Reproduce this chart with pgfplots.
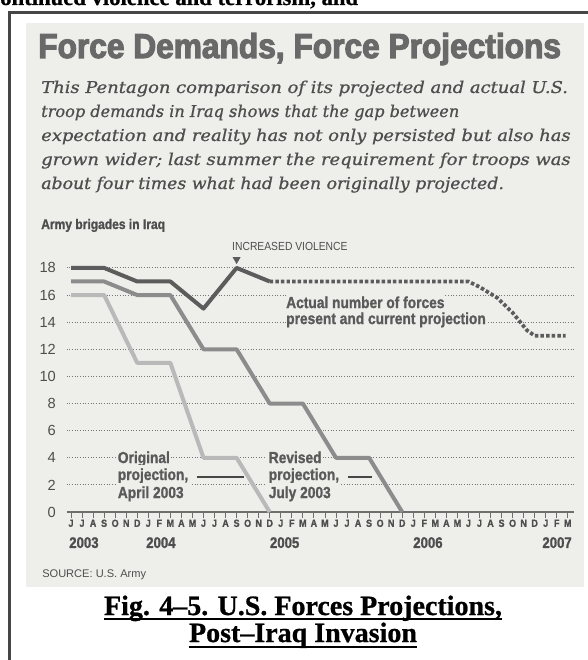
\documentclass[border=0pt]{standalone}
\usepackage{fontspec}
\usepackage{pgfplots}
\pgfplotsset{compat=1.18}
\setmainfont{Liberation Sans}
\newfontfamily\cond[FakeStretch=0.88]{Liberation Sans}
\newfontfamily\condb[FakeStretch=0.86, FakeBold=1.2]{Liberation Sans Bold}
\newfontfamily\condbb[FakeStretch=0.82, FakeBold=3]{Liberation Sans Bold}
\newfontfamily\bodyit[FakeBold=0.8]{DejaVu Serif Italic}
\newfontfamily\capfont[FakeBold=0.8]{Liberation Serif Bold}
\definecolor{panel}{RGB}{238,238,235}
\definecolor{ttl}{RGB}{105,105,105}
\definecolor{txt}{RGB}{78,78,78}
\definecolor{lab}{RGB}{90,90,90}
\definecolor{actual}{RGB}{92,92,92}
\definecolor{revised}{RGB}{140,140,140}
\definecolor{orig}{RGB}{185,185,185}
\definecolor{gridc}{RGB}{120,120,120}
\definecolor{axisc}{RGB}{110,110,110}
\definecolor{framec}{RGB}{70,70,70}
\begin{document}
\begin{tikzpicture}[x=0.75pt,y=-0.75pt]
\useasboundingbox (0,0) rectangle (587,660);
\begin{scope}
\clip (0,0) rectangle (587,660);
\node[anchor=base west, inner sep=0pt, font=\capfont\fontsize{17}{17}\selectfont] at (0,5) {ontinued violence and terrorism, and};
\end{scope}
\fill[panel] (26,23) rectangle (584,587);
\draw[framec, line width=2.25pt] (9.5,662) -- (9.5,12.5) -- (589,12.5);
% title
\node[anchor=base west, inner sep=0pt, text=ttl] at (38,58) {\resizebox{392pt}{18.75pt}{\condbb Force Demands, Force Projections}};
% paragraph
\node[anchor=base west, inner sep=0pt, text=txt] at (41,93) {\resizebox{395pt}{9.3pt}{\bodyit This Pentagon comparison of its projected and actual U.S.}};
\node[anchor=base west, inner sep=0pt, text=txt] at (41,117) {\resizebox{313.5pt}{9.3pt}{\bodyit troop demands in Iraq shows that the gap between}};
\node[anchor=base west, inner sep=0pt, text=txt] at (41,141) {\resizebox{397pt}{9.3pt}{\bodyit expectation and reality has not only persisted but also has}};
\node[anchor=base west, inner sep=0pt, text=txt] at (41,165) {\resizebox{397pt}{9.3pt}{\bodyit grown wider; last summer the requirement for troops was}};
\node[anchor=base west, inner sep=0pt, text=txt] at (41,189) {\resizebox{347pt}{9.3pt}{\bodyit about four times what had been originally projected.}};
\node[anchor=base west, inner sep=0pt, text=txt, font=\condb\fontsize{10.5}{12}\selectfont] at (41,229) {Army brigades in Iraq};
% source
\node[anchor=base west, inner sep=0pt, text=txt, font=\fontsize{8.3}{10}\selectfont] at (42,577) {SOURCE: U.S. Army};
% caption
\node[anchor=base, inner sep=0pt, font=\capfont\fontsize{21}{21}\selectfont] (c1) at (303,615) {Fig. 4–5. U.S. Forces Projections,};
\draw[line width=1.5pt] ([yshift=-3.3pt]c1.base west) -- ([yshift=-3.3pt]c1.base east);
\node[anchor=base, inner sep=0pt, font=\capfont\fontsize{21}{21}\selectfont] (c2) at (303,642) {Post–Iraq Invasion};
\draw[line width=1.5pt] ([yshift=-3.6pt]c2.base west) -- ([yshift=-3.6pt]c2.base east);
\coordinate (O) at (71,512);
\begin{axis}[
  at={(O)}, anchor=origin,
  x=8.28pt, y=10.17pt,
  xmin=-0.4, xmax=45.6, ymin=0, ymax=18.6,
  clip=false,
  axis x line*=bottom, axis y line*=left,
  y axis line style={draw=none},
  x axis line style={draw=axisc, line width=1.1pt},
  tick align=outside,
  major tick length=4.5pt,
  xtick={0,...,45},
  xticklabels={J,J,A,S,O,N,D,J,F,M,A,M,J,J,A,S,O,N,D,J,F,M,A,M,J,J,A,S,O,N,D,J,F,M,A,M,J,J,A,S,O,N,D,J,F,M},
  xtick style={draw=axisc, line width=0.6pt},
  ytick={0,2,...,18},
  ytick style={draw=none},
  ymajorgrids,
  grid style={draw=gridc, line width=0.7pt, dash pattern=on 0.9pt off 1.1pt},
  xticklabel style={font=\condb\fontsize{7.8}{8}\selectfont, text=txt, inner sep=1pt},
  yticklabel style={font=\fontsize{11}{12}\selectfont, text=txt},
  /pgf/number format/assume math mode=true,
]
% labels (under the lines, over the grid)
\node[anchor=base west, font=\condb\fontsize{12}{12}\selectfont, text=lab, fill=panel, inner xsep=0pt, inner ysep=2.5pt] at (axis cs:19.47,15.04) {Actual number of forces};
\node[anchor=base west, font=\condb\fontsize{12}{12}\selectfont, text=lab, fill=panel, inner xsep=0pt, inner ysep=2.5pt] at (axis cs:19.47,13.86) {present and current projection};
\node[anchor=base west, font=\condb\fontsize{12}{12}\selectfont, text=lab, fill=panel, inner xsep=1pt, inner ysep=2.5pt] at (axis cs:4.1,3.61) {Original};
\node[anchor=base west, font=\condb\fontsize{12}{12}\selectfont, text=lab, fill=panel, inner xsep=1pt, inner ysep=2.5pt] at (axis cs:4.1,2.36) {projection,};
\node[anchor=base west, font=\condb\fontsize{12}{12}\selectfont, text=lab, fill=panel, inner xsep=1pt, inner ysep=2.5pt] at (axis cs:4.1,1.03) {April 2003};
\node[anchor=base west, font=\condb\fontsize{12}{12}\selectfont, text=lab, fill=panel, inner xsep=1pt, inner ysep=2.5pt] at (axis cs:17.77,3.61) {Revised};
\node[anchor=base west, font=\condb\fontsize{12}{12}\selectfont, text=lab, fill=panel, inner xsep=1pt, inner ysep=2.5pt] at (axis cs:17.77,2.36) {projection,};
\node[anchor=base west, font=\condb\fontsize{12}{12}\selectfont, text=lab, fill=panel, inner xsep=1pt, inner ysep=2.5pt] at (axis cs:17.77,1.03) {July 2003};
\draw[framec, line width=1.1pt] (axis cs:11.41,2.58) -- (axis cs:15.67,2.58);
\draw[framec, line width=1.1pt] (axis cs:25.09,2.58) -- (axis cs:27.26,2.58);
\node[anchor=base west, inner sep=0pt, font=\cond\fontsize{8.8}{10}\selectfont, text=txt] at (axis cs:14.58,19.25) {INCREASED VIOLENCE};
% years
\node[anchor=base west, inner sep=0pt, font=\condb\fontsize{11.5}{12}\selectfont, text=txt] at (axis cs:-0.18,-2.65) {2003};
\node[anchor=base west, inner sep=0pt, font=\condb\fontsize{11.5}{12}\selectfont, text=txt] at (axis cs:6.79,-2.65) {2004};
\node[anchor=base west, inner sep=0pt, font=\condb\fontsize{11.5}{12}\selectfont, text=txt] at (axis cs:18.0,-2.65) {2005};
\node[anchor=base west, inner sep=0pt, font=\condb\fontsize{11.5}{12}\selectfont, text=txt] at (axis cs:30.98,-2.65) {2006};
\node[anchor=base east, inner sep=0pt, font=\condb\fontsize{11.5}{12}\selectfont, text=txt] at (axis cs:45.38,-2.65) {2007};
% data
\addplot[orig, line width=3pt, line join=round, mark=none] coordinates {(0,16) (3,16) (6,11) (9,11) (12,4) (15,4) (18,0)};
\addplot[revised, line width=3pt, line join=round, mark=none] coordinates {(0,17) (3,17) (6,16) (9,16) (12,12) (15,12) (18,8) (21,8) (24,4) (27,4) (30,0)};
\addplot[actual, line width=3pt, line join=round, mark=none] coordinates {(0,18) (3,18) (6,17) (9,17) (12,15) (15,18) (18,17)};
\addplot[actual, line width=2.8pt, dash pattern=on 2.6pt off 1.6pt, mark=none] coordinates {(18,17) (36,17) (37,16.6) (38.6,15.8) (40,14.7) (41.3,13.4) (42,13) (44.8,13)};
\addplot[actual, only marks, mark=triangle*, mark size=3pt, mark options={rotate=180, fill=actual, draw=actual}] coordinates {(15,18.62)};
\end{axis}
\end{tikzpicture}
\end{document}
